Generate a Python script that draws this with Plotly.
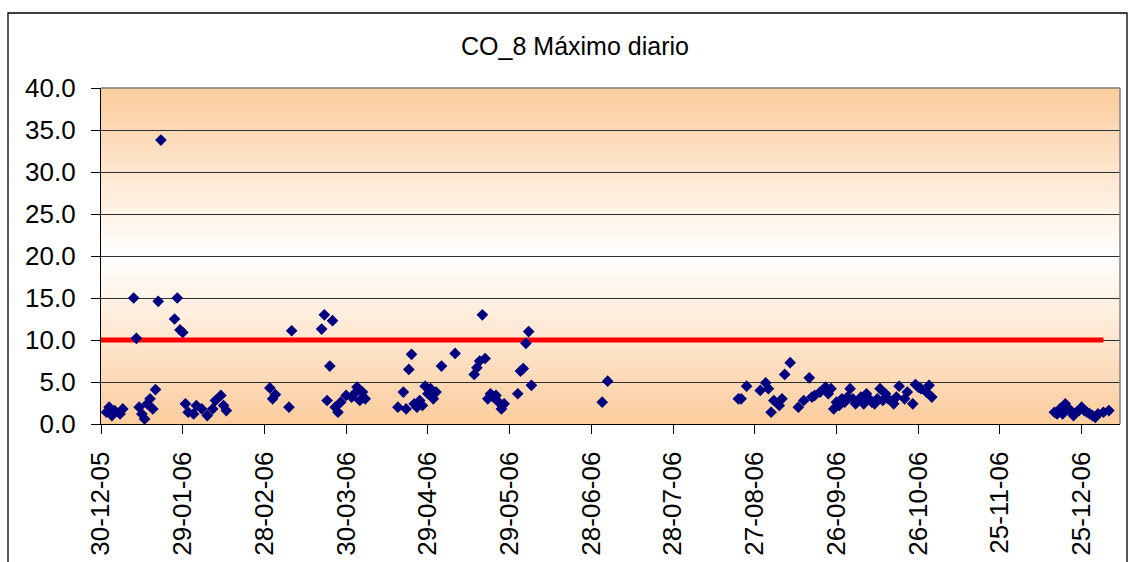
import plotly.graph_objects as go

# ---------------- data ----------------
dates = [
    "2006-01-01", "2006-01-02", "2006-01-03", "2006-01-04", "2006-01-06", "2006-01-07",
    "2006-01-11", "2006-01-12", "2006-01-13", "2006-01-14", "2006-01-15", "2006-01-16",
    "2006-01-17", "2006-01-18", "2006-01-19", "2006-01-20", "2006-01-21", "2006-01-26",
    "2006-01-27", "2006-01-28", "2006-01-29", "2006-01-30", "2006-01-31",
    "2006-02-02", "2006-02-03", "2006-02-05", "2006-02-07", "2006-02-09", "2006-02-10",
    "2006-02-12", "2006-02-13", "2006-02-14",
    "2006-03-02", "2006-03-03", "2006-03-04", "2006-03-09", "2006-03-10", "2006-03-21",
    "2006-03-22", "2006-03-23", "2006-03-24", "2006-03-25", "2006-03-26", "2006-03-27",
    "2006-03-28", "2006-03-30",
    "2006-04-01", "2006-04-02", "2006-04-03", "2006-04-04", "2006-04-05", "2006-04-06",
    "2006-04-18", "2006-04-20", "2006-04-21", "2006-04-22", "2006-04-23", "2006-04-24",
    "2006-04-25", "2006-04-26", "2006-04-27", "2006-04-28", "2006-04-29", "2006-04-30",
    "2006-05-01", "2006-05-02", "2006-05-04", "2006-05-09", "2006-05-16", "2006-05-17",
    "2006-05-18", "2006-05-19", "2006-05-20", "2006-05-21", "2006-05-22", "2006-05-23",
    "2006-05-24", "2006-05-25", "2006-05-26", "2006-05-27",
    "2006-06-01", "2006-06-02", "2006-06-03", "2006-06-04", "2006-06-05", "2006-06-06",
    "2006-07-02", "2006-07-04",
    "2006-08-21", "2006-08-22", "2006-08-24", "2006-08-29", "2006-08-31",
    "2006-09-01", "2006-09-02", "2006-09-03", "2006-09-05", "2006-09-06", "2006-09-07",
    "2006-09-09", "2006-09-12", "2006-09-14", "2006-09-16", "2006-09-17", "2006-09-18",
    "2006-09-20", "2006-09-22", "2006-09-23", "2006-09-24", "2006-09-25", "2006-09-26",
    "2006-09-27", "2006-09-28", "2006-09-29", "2006-09-30",
    "2006-10-01", "2006-10-02", "2006-10-03", "2006-10-04", "2006-10-05", "2006-10-06",
    "2006-10-07", "2006-10-08", "2006-10-09", "2006-10-10", "2006-10-11", "2006-10-12",
    "2006-10-13", "2006-10-14", "2006-10-15", "2006-10-17", "2006-10-18", "2006-10-19",
    "2006-10-21", "2006-10-22", "2006-10-24", "2006-10-25", "2006-10-26", "2006-10-27",
    "2006-10-29", "2006-10-30", "2006-10-31",
    "2006-12-15", "2006-12-16", "2006-12-17", "2006-12-18", "2006-12-19", "2006-12-20",
    "2006-12-21", "2006-12-22", "2006-12-23", "2006-12-24", "2006-12-25", "2006-12-26",
    "2006-12-27", "2006-12-28", "2006-12-29", "2006-12-30", "2006-12-31", "2007-01-02",
    "2007-01-04",
]

co_max = [
    1.4, 2.0, 1.0, 1.6, 1.2, 1.8,
    15.0, 10.2, 2.0, 1.2, 0.6, 2.4,
    3.0, 1.8, 4.1, 14.6, 33.8, 12.5,
    15.0, 11.2, 10.9, 2.4, 1.4,
    1.2, 2.2, 1.8, 1.0, 1.8, 2.8,
    3.4, 2.2, 1.6,
    4.3, 3.0, 3.5, 2.0, 11.1, 11.3,
    13.0, 2.8, 6.9, 12.3, 2.0, 1.4,
    2.6, 3.4,
    3.2, 3.6, 4.4, 2.8, 3.8, 3.0,
    2.0, 3.8, 1.8, 6.5, 8.3, 2.4,
    2.0, 2.8, 2.2, 4.5, 3.6, 4.2,
    3.0, 3.8, 6.9, 8.4, 5.9, 6.7,
    7.5, 13.0, 7.8, 3.0, 3.6, 3.2,
    3.4, 2.6, 1.8, 2.4,
    3.6, 6.3, 6.6, 9.6, 11.0, 4.6,
    2.6, 5.1,
    3.0, 3.0, 4.5, 4.0, 4.9,
    4.2, 1.4, 2.8, 2.2, 3.0, 5.9,
    7.3, 2.0, 2.8, 5.5, 3.2, 3.4,
    3.8, 4.4, 3.6, 4.2, 1.8, 2.6,
    2.2, 3.0, 2.6, 3.2,
    4.2, 3.0, 2.4, 2.8, 3.2, 2.4,
    3.6, 3.0, 2.6, 2.4, 3.0, 4.2,
    2.8, 3.6, 3.0, 2.4, 3.2, 4.5,
    3.0, 3.8, 2.4, 4.7, 4.4, 4.2,
    3.8, 4.6, 3.2,
    1.4, 1.2, 1.8, 1.2, 2.4, 1.8,
    1.6, 1.0, 1.4, 1.6, 2.0, 1.6,
    1.4, 1.2, 1.0, 0.8, 1.2, 1.4,
    1.6,
]

limit_dates = ["2005-12-28", "2007-01-02"]
limit_values = [10.0, 10.0]

title_text = "CO_8 Máximo diario"
y_ticks = [0, 5, 10, 15, 20, 25, 30, 35, 40]
x_start = "2005-12-30"
x_end = "2007-01-08 02:00"

# ---------------- figure ----------------
FONT = "Liberation Sans, Arial, sans-serif"
fig = go.Figure()

fig.add_trace(go.Scatter(
    x=limit_dates, y=limit_values, mode="lines",
    line=dict(color="#FF0000", width=5), hoverinfo="skip", showlegend=False,
))
fig.add_trace(go.Scatter(
    x=dates, y=co_max, mode="markers",
    marker=dict(symbol="diamond", size=9, color="#000080", line=dict(width=0)),
    showlegend=False, cliponaxis=False,
))

# vertical gradient background: orange at edges, white in the middle
shapes = []
N = 80
edge = (252, 204, 156)
for i in range(N):
    t0, t1 = i / N, (i + 1) / N
    tm = (t0 + t1) / 2
    f = abs(tm - 0.5) * 2  # 0 at centre, 1 at edges
    c = tuple(round(255 + (e - 255) * f) for e in edge)
    shapes.append(dict(type="rect", xref="x domain", yref="y domain",
                       x0=0, x1=1, y0=t0, y1=t1 + 0.002,
                       fillcolor="rgb(%d,%d,%d)" % c, line=dict(width=0),
                       layer="below"))

# plot area top/right border (grey)
shapes.append(dict(type="line", xref="paper", yref="paper", x0=0, x1=1, y0=1, y1=1,
                   line=dict(color="#808080", width=1.5)))
shapes.append(dict(type="line", xref="paper", yref="paper", x0=1, x1=1, y0=0, y1=1,
                   line=dict(color="#808080", width=1.5)))
# outer chart border
shapes.append(dict(type="rect", xref="paper", yref="paper",
                   x0=(8 - 101) / 1019, x1=(1127 - 101) / 1019,
                   y0=-0.6, y1=(424 - 13) / 336,
                   line=dict(color="#000000", width=1.3), fillcolor="rgba(0,0,0,0)"))

fig.update_layout(
    width=1130, height=562,
    margin=dict(l=101, r=10, t=88, b=138),
    paper_bgcolor="white", plot_bgcolor="white",
    font=dict(family=FONT, color="black"),
    shapes=shapes,
    title=dict(text=title_text, x=(575 - 101) / 1019, xref="paper", xanchor="center",
               y=1 - 46 / 562, yref="container", yanchor="middle",
               font=dict(family=FONT, size=25, color="black")),
    xaxis=dict(
        type="date", range=[x_start, x_end], automargin=False,
        tick0=x_start, dtick=30 * 86400000, tickformat="%d-%m-%y",
        tickangle=-90, tickfont=dict(size=26, family=FONT, color="black"),
        ticks="outside", ticklen=9, tickcolor="black", tickwidth=1,
        ticklabelstandoff=7,
        showline=True, linecolor="black", linewidth=1.3,
        showgrid=False, zeroline=False,
    ),
    yaxis=dict(
        range=[0, 40], tickvals=y_ticks, tickformat=".1f", automargin=False,
        tickfont=dict(size=26, family=FONT, color="black"),
        ticks="outside", ticklen=9, tickcolor="black", tickwidth=1,
        ticklabelstandoff=10,
        showline=True, linecolor="black", linewidth=1.3,
        showgrid=True, gridcolor="#303030", gridwidth=1,
        zeroline=False,
    ),
)

fig.write_html("out.html")
